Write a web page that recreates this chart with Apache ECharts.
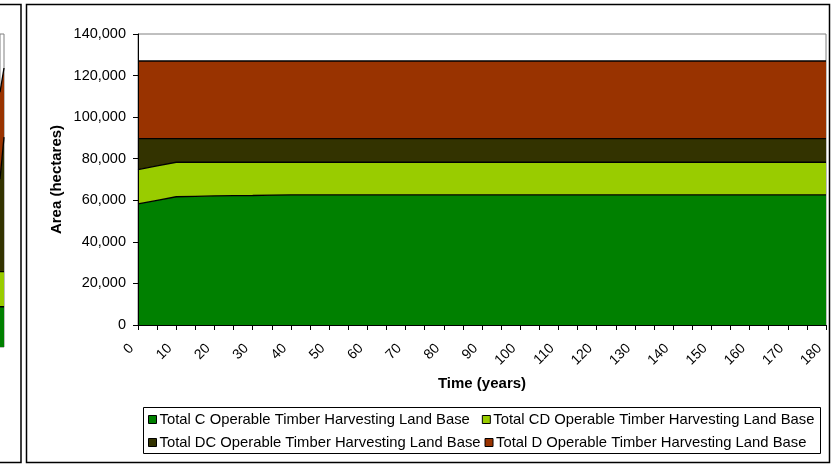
<!DOCTYPE html>
<html>
<head>
<meta charset="utf-8">
<script src="https://cdn.jsdelivr.net/npm/echarts@6/dist/echarts.min.js"></script>
<style>
  html, body { margin: 0; padding: 0; background: #fff; }
  #chart { width: 831px; height: 465px; }
</style>
</head>
<body>
<div id="chart"></div>
<script>
// years, every 5 (labels every 10)
var years = [];
for (var y = 0; y <= 180; y += 5) years.push(String(y));

var seriesNames = [
    'Total C Operable Timber Harvesting Land Base',
    'Total CD Operable Timber Harvesting Land Base',
    'Total DC Operable Timber Harvesting Land Base',
    'Total D Operable Timber Harvesting Land Base'
];
var seriesColors = ['#008000', '#99CC00', '#333300', '#993300'];

// hectares (37 points, 0..180 by 5)
var totalC = [58300, 60000, 61700, 61900, 62100, 62200, 62300, 62500, 62600, 62600,
    62600, 62600, 62600, 62600, 62600, 62600, 62600, 62600, 62600, 62600,
    62600, 62600, 62600, 62600, 62600, 62600, 62600, 62600, 62600, 62600,
    62600, 62600, 62600, 62600, 62600, 62600, 62600];
var totalCD = [16500, 16550, 16600, 16400, 16200, 16100, 16000, 15800, 15700, 15700,
    15700, 15700, 15700, 15700, 15700, 15700, 15700, 15700, 15700, 15700,
    15700, 15700, 15700, 15700, 15700, 15700, 15700, 15700, 15700, 15700,
    15700, 15700, 15700, 15700, 15700, 15700, 15700];
var totalDC = [14900, 13150, 11400, 11400, 11400, 11400, 11400, 11400, 11400, 11400,
    11400, 11400, 11400, 11400, 11400, 11400, 11400, 11400, 11400, 11400,
    11400, 11400, 11400, 11400, 11400, 11400, 11400, 11400, 11400, 11400,
    11400, 11400, 11400, 11400, 11400, 11400, 11400];
var totalD = [37300, 37300, 37300, 37300, 37300, 37300, 37300, 37300, 37300, 37300,
    37300, 37300, 37300, 37300, 37300, 37300, 37300, 37300, 37300, 37300,
    37300, 37300, 37300, 37300, 37300, 37300, 37300, 37300, 37300, 37300,
    37300, 37300, 37300, 37300, 37300, 37300, 37300];

// the neighbouring chart, only its right edge shows
var fragCats = ['a', 'b'];
var fragC = [18000, 18000];
var fragCD = [15700, 15700];
var fragDC = [41400, 60200];
var fragD = [38900, 30900];

var font = 'Arial, "Liberation Sans", sans-serif';
var mainData = [totalC, totalCD, totalDC, totalD];
var fragData = [fragC, fragCD, fragDC, fragD];

var series = [];
for (var i = 0; i < 4; i++) {
    series.push({
        name: seriesNames[i],
        type: 'line',
        stack: 'main',
        xAxisIndex: 0,
        yAxisIndex: 0,
        data: mainData[i],
        symbol: 'none',
        lineStyle: { color: '#000', width: 1.3 },
        areaStyle: { color: seriesColors[i], opacity: 1 },
        itemStyle: { color: seriesColors[i], borderColor: '#000', borderWidth: 1 },
        z: 2,
        animation: false
    });
}
for (var j = 0; j < 4; j++) {
    series.push({
        name: 'frag' + j,
        type: 'line',
        stack: 'frag',
        xAxisIndex: 1,
        yAxisIndex: 1,
        data: fragData[j],
        symbol: 'none',
        lineStyle: { color: '#000', width: 1.3 },
        areaStyle: { color: seriesColors[j], opacity: 1 },
        animation: false
    });
}

function legendRow(names, top, gap) {
    return {
        data: names,
        left: 148,
        top: top,
        padding: 0,
        itemGap: gap,
        itemWidth: 8,
        itemHeight: 8,
        icon: 'rect',
        textStyle: { color: '#000', fontSize: 14.8, fontFamily: font, padding: [0, 0, 0, -2] },
        itemStyle: { borderColor: '#000', borderWidth: 1 }
    };
}

var myChart = echarts.init(document.getElementById('chart'));
var option = {
    backgroundColor: '#fff',
    animation: false,
    textStyle: { fontFamily: font },
    grid: [
        { left: 138, right: 5, top: 34, bottom: 140, show: true, borderColor: '#808080', borderWidth: 1, backgroundColor: '#fff' },
        { left: -4, width: 8, top: 34, height: 313, show: true, borderColor: '#808080', borderWidth: 1 }
    ],
    legend: [
        legendRow([seriesNames[0], seriesNames[1]], 412, 12),
        legendRow([seriesNames[2], seriesNames[3]], 435, 4)
    ],
    xAxis: [
        {
            type: 'category',
            gridIndex: 0,
            data: years,
            boundaryGap: false,
            name: 'Time (years)',
            nameLocation: 'middle',
            nameGap: 51,
            nameMoveOverlap: false,
            nameTextStyle: { color: '#000', fontSize: 15, fontWeight: 'bold', fontFamily: font },
            axisLine: { lineStyle: { color: '#000', width: 1 } },
            axisTick: { interval: 0, length: 5, lineStyle: { color: '#000' } },
            axisLabel: { interval: 1, rotate: 45, margin: 15, padding: [0, 9, 0, 0], color: '#000', fontSize: 14, fontFamily: font },
            splitLine: { show: false },
            z: 5
        },
        {
            type: 'category',
            gridIndex: 1,
            data: fragCats,
            boundaryGap: false,
            show: false
        }
    ],
    yAxis: [
        {
            type: 'value',
            gridIndex: 0,
            min: 0,
            max: 140000,
            interval: 20000,
            name: 'Area (hectares)',
            nameLocation: 'middle',
            nameGap: 74,
            nameMoveOverlap: false,
            nameTextStyle: { color: '#000', fontSize: 15, fontWeight: 'bold', fontFamily: font },
            axisLine: { show: true, lineStyle: { color: '#000', width: 1 } },
            axisTick: { show: true, length: 5, lineStyle: { color: '#000' } },
            axisLabel: {
                margin: 12,
                color: '#000',
                fontSize: 14.5,
                fontFamily: font,
                formatter: function (v) { return v.toLocaleString('en-US'); }
            },
            splitLine: { show: false },
            z: 5
        },
        {
            type: 'value',
            gridIndex: 1,
            min: 0,
            max: 140000,
            show: false,
            splitLine: { show: false }
        }
    ],
    graphic: [
        { type: 'rect', shape: { x: -10, y: 4.5, width: 31, height: 458 }, style: { fill: 'none', stroke: '#000', lineWidth: 1.5 }, z: 100 },
        { type: 'rect', shape: { x: 26.5, y: 4.5, width: 803, height: 458 }, style: { fill: 'none', stroke: '#000', lineWidth: 1.5 }, z: 100 },
        // legend box
        { type: 'rect', shape: { x: 143.5, y: 407.5, width: 677, height: 46 }, style: { fill: 'none', stroke: '#000', lineWidth: 1 }, z: 100 }
    ],
    series: series
};

myChart.setOption(option);
</script>
</body>
</html>
